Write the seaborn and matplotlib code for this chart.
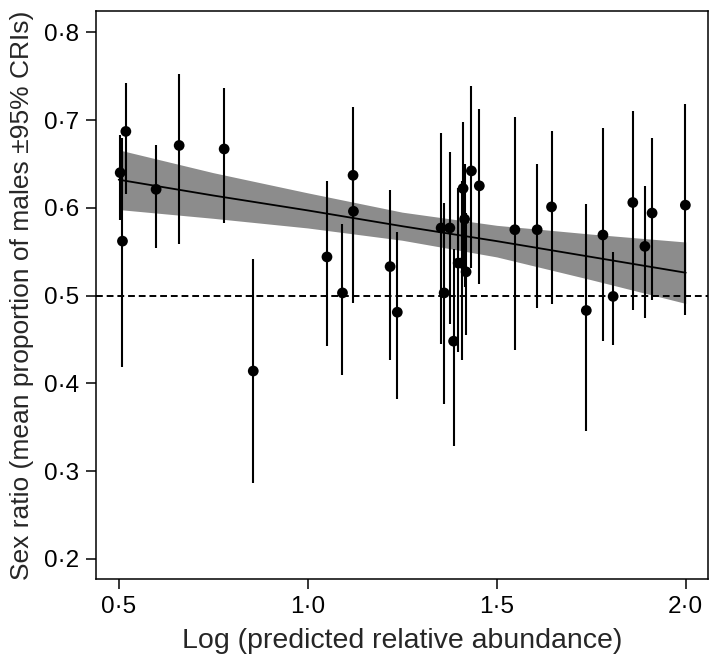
# Sex ratio vs log predicted relative abundance
import pandas as pd
import seaborn as sns
import matplotlib.pyplot as plt

# Punts (mitjana i interval creible 95%)
log_abund = [0.504, 0.510, 0.519, 0.599, 0.660, 0.779, 0.856, 1.051, 1.092, 1.120,
             1.121, 1.218, 1.237, 1.353, 1.361, 1.376, 1.386, 1.398, 1.407, 1.411,
             1.415, 1.419, 1.433, 1.454, 1.548, 1.607, 1.645, 1.737, 1.781, 1.808,
             1.860, 1.892, 1.911, 1.999]
sex_ratio = [0.640, 0.562, 0.687, 0.621, 0.671, 0.667, 0.414, 0.544, 0.503, 0.637,
             0.596, 0.533, 0.481, 0.577, 0.503, 0.577, 0.448, 0.537, 0.537, 0.622,
             0.587, 0.527, 0.642, 0.625, 0.575, 0.575, 0.601, 0.483, 0.569, 0.499,
             0.606, 0.556, 0.594, 0.603]
cri_low = [0.586, 0.419, 0.616, 0.554, 0.559, 0.583, 0.286, 0.442, 0.409, 0.529,
           0.492, 0.426, 0.382, 0.445, 0.376, 0.468, 0.328, 0.436, 0.427, 0.531,
           0.510, 0.455, 0.531, 0.513, 0.438, 0.486, 0.490, 0.346, 0.448, 0.444,
           0.483, 0.474, 0.495, 0.478]
cri_high = [0.683, 0.680, 0.742, 0.672, 0.752, 0.736, 0.542, 0.630, 0.582, 0.715,
            0.677, 0.620, 0.572, 0.685, 0.605, 0.664, 0.553, 0.622, 0.630, 0.698,
            0.650, 0.594, 0.739, 0.713, 0.703, 0.650, 0.688, 0.604, 0.691, 0.550,
            0.710, 0.625, 0.680, 0.718]

# Recta ajustada i banda
fit_x = [0.5, 0.75, 1.0, 1.25, 1.5, 1.75, 2.0]
fit_y = [0.632, 0.614, 0.597, 0.579, 0.562, 0.544, 0.526]
band_low = [0.598, 0.588, 0.577, 0.563, 0.544, 0.518, 0.491]
band_high = [0.666, 0.640, 0.617, 0.595, 0.580, 0.570, 0.561]

xticks = [0.5, 1.0, 1.5, 2.0]
xtick_labels = ["0·5", "1·0", "1·5", "2·0"]
yticks = [0.2, 0.3, 0.4, 0.5, 0.6, 0.7, 0.8]
ytick_labels = ["0·2", "0·3", "0·4", "0·5", "0·6", "0·7", "0·8"]

df = pd.DataFrame({"x": log_abund, "y": sex_ratio, "lo": cri_low, "hi": cri_high})
fit = pd.DataFrame({"x": fit_x, "y": fit_y, "lo": band_low, "hi": band_high})

sns.set_style("ticks")
plt.rcParams['font.family'] = ['Liberation Sans', 'DejaVu Sans']

fig = plt.figure(figsize=(7.09, 6.66), dpi=100)
ax = fig.add_axes([0.1354, 0.1306, 0.8627, 0.8534])

ax.fill_between(fit["x"], fit["lo"], fit["hi"], color="#8c8c8c", lw=0, zorder=1)
sns.lineplot(data=fit, x="x", y="y", color="black", lw=1.3, ax=ax, zorder=2)
ax.axhline(0.5, color="black", lw=1.4, dashes=(3.5, 2), zorder=2)
ax.vlines(df["x"], df["lo"], df["hi"], color="black", lw=1.5, zorder=3)
sns.scatterplot(data=df, x="x", y="y", color="black", s=60, edgecolor="none",
                ax=ax, zorder=4)

ax.set_xlim(0.44, 2.058)
ax.set_ylim(0.177, 0.8246)
ax.set_xticks(xticks)
ax.set_xticklabels(xtick_labels)
ax.set_yticks(yticks)
ax.set_yticklabels(ytick_labels)
ax.tick_params(axis="both", direction="out", length=7.5, width=1.1,
               labelsize=17.5, color="black", labelcolor="black", pad=5)
for sp in ax.spines.values():
    sp.set_linewidth(1.1)
    sp.set_color("black")

ax.set_xlabel("Log (predicted relative abundance)", fontsize=20.5, labelpad=7)
ax.set_ylabel("Sex ratio (mean proportion of males ±95% CRIs)", fontsize=19, labelpad=7)

plt.savefig("out.png", dpi=100)
